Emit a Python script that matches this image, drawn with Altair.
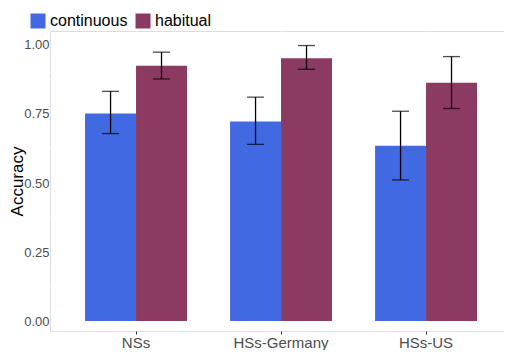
import altair as alt
import pandas as pd

groups = ["NSs", "HSs-Germany", "HSs-US"]
types = ["continuous", "habitual"]
cont_mean = [0.752, 0.723, 0.635]
cont_lo = [0.679, 0.640, 0.511]
cont_hi = [0.832, 0.811, 0.760]
hab_mean = [0.925, 0.952, 0.863]
hab_lo = [0.877, 0.912, 0.770]
hab_hi = [0.974, 0.998, 0.958]
y_ticks = [0, 0.25, 0.5, 0.75, 1.0]
y_minor = [0.125, 0.375, 0.625, 0.875]

rows = []
for i, g in enumerate(groups):
    rows.append(dict(group=g, type="continuous", mean=cont_mean[i], lo=cont_lo[i], hi=cont_hi[i]))
    rows.append(dict(group=g, type="habitual", mean=hab_mean[i], lo=hab_lo[i], hi=hab_hi[i]))
df = pd.DataFrame(rows)
minor_df = pd.DataFrame({"v": y_minor})

FONT = "Liberation Sans"
xscale = alt.Scale(domain=groups, paddingInner=0.297, paddingOuter=0.214, align=0.565)
yscale = alt.Scale(domain=[-0.0362, 1.0507], nice=False, zero=False)
xoff = alt.XOffset("type:N", scale=alt.Scale(domain=types, paddingInner=0, paddingOuter=0))

x_enc = alt.X("group:N", scale=xscale, sort=groups,
              axis=alt.Axis(title=None, grid=True, gridColor="white", gridWidth=1.5,
                            labelFontSize=15, labelColor="#4D4D4D", labelAngle=0,
                            tickColor="#333333", tickSize=3, domain=False, labelPadding=1))
y_axis = alt.Axis(title="Accuracy", values=y_ticks, format=".2f", grid=True, gridColor="white",
                  gridWidth=1.5, labelFontSize=13, labelColor="#4D4D4D", ticks=False,
                  labelPadding=1, domain=False, titleFontSize=17, titleFontWeight="normal",
                  titleColor="black", titleX=-33, titleBaseline="middle")

minor = alt.Chart(minor_df).mark_rule(color="white", strokeWidth=1).encode(
    y=alt.Y("v:Q", scale=yscale, axis=y_axis)
)

bars = alt.Chart(df).mark_bar().encode(
    x=x_enc,
    xOffset=xoff,
    y=alt.Y("mean:Q", scale=yscale, axis=y_axis),
    y2=alt.datum(0),
    color=alt.Color("type:N", scale=alt.Scale(domain=types, range=["#4169E1", "#8B3A62"]),
                    legend=alt.Legend(title=None, orient="none", legendX=-20, legendY=-18,
                                      direction="horizontal", symbolType="square",
                                      symbolSize=225, symbolStrokeWidth=0, symbolOpacity=1,
                                      labelFontSize=16, labelColor="black", labelOffset=4,
                                      columnPadding=7, padding=0)),
)

err = alt.Chart(df).mark_rule(color="black", strokeWidth=1.3).encode(
    x=alt.X("group:N", scale=xscale, sort=groups),
    xOffset=xoff,
    y=alt.Y("lo:Q", scale=yscale),
    y2="hi:Q",
)

cap_lo = alt.Chart(df).mark_tick(color="black", size=17, thickness=1.3).encode(
    x=alt.X("group:N", scale=xscale, sort=groups),
    xOffset=xoff,
    y=alt.Y("lo:Q", scale=yscale),
)
cap_hi = alt.Chart(df).mark_tick(color="black", size=17, thickness=1.3).encode(
    x=alt.X("group:N", scale=xscale, sort=groups),
    xOffset=xoff,
    y=alt.Y("hi:Q", scale=yscale),
)

chart = alt.layer(minor, bars, err, cap_lo, cap_hi).properties(
    width=454, height=300,
    autosize=alt.AutoSizeParams(type="none"),
    padding={"left": 42, "top": 23, "right": 0, "bottom": 19},
).configure_view(fill="#EBEBEB", strokeWidth=0).configure(font=FONT)

chart.save("out.html", embed_options={"renderer": "svg", "actions": False})
